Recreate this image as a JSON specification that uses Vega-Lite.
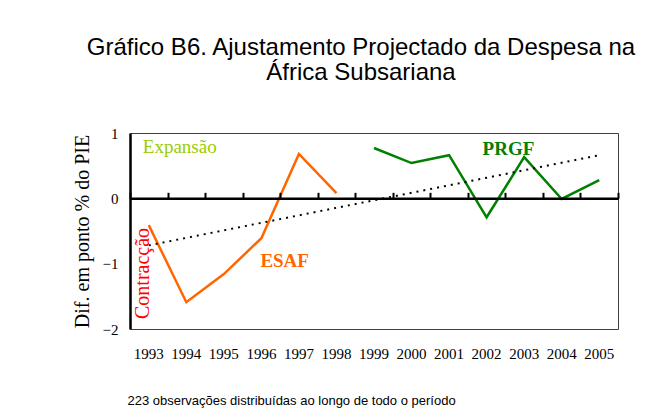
{
  "$schema": "https://vega.github.io/schema/vega-lite/v6.json",
  "autosize": "none",
  "width": 488,
  "height": 196,
  "padding": {"left": 130, "top": 133, "right": 35, "bottom": 90},
  "background": "white",
  "config": {
    "view": {"stroke": "#404040", "strokeWidth": 1},
    "axis": {"grid": false}
  },
  "title": {
    "text": ["Gráfico B6. Ajustamento Projectado da Despesa na", "África Subsariana"],
    "font": "Liberation Sans",
    "fontSize": 24,
    "fontWeight": "normal",
    "color": "black",
    "anchor": "middle",
    "frame": "group",
    "dx": -13,
    "lineHeight": 25,
    "offset": 41
  },
  "datasets": {
    "series": [
      {"year": "1993", "value": -0.41, "programme": "ESAF"},
      {"year": "1994", "value": -1.59, "programme": "ESAF"},
      {"year": "1995", "value": -1.16, "programme": "ESAF"},
      {"year": "1996", "value": -0.61, "programme": "ESAF"},
      {"year": "1997", "value": 0.68, "programme": "ESAF"},
      {"year": "1998", "value": 0.08, "programme": "ESAF"},
      {"year": "1999", "value": 0.77, "programme": "PRGF"},
      {"year": "2000", "value": 0.54, "programme": "PRGF"},
      {"year": "2001", "value": 0.66, "programme": "PRGF"},
      {"year": "2002", "value": -0.29, "programme": "PRGF"},
      {"year": "2003", "value": 0.63, "programme": "PRGF"},
      {"year": "2004", "value": -0.01, "programme": "PRGF"},
      {"year": "2005", "value": 0.28, "programme": "PRGF"}
    ],
    "trend": [
      {"year": "1993", "value": -0.72},
      {"year": "2005", "value": 0.66}
    ],
    "notes": [
      {"label": "Expansão", "year": "1993", "value": 0.78},
      {"label": "Contracção", "year": "1993", "value": -1.15},
      {"label": "ESAF", "year": "1996", "value": -0.96},
      {"label": "PRGF", "year": "2002", "value": 0.76}
    ]
  },
  "resolve": {"axis": {"x": "independent", "y": "independent"}},
  "layer": [
    {
      "data": {"name": "series"},
      "mark": {"type": "line", "strokeWidth": 2.5},
      "encoding": {
        "x": {
          "field": "year",
          "type": "ordinal",
          "bandPosition": 0.5,
          "scale": {
            "type": "band",
            "domain": ["1993","1994","1995","1996","1997","1998","1999","2000","2001","2002","2003","2004","2005"],
            "paddingInner": 0,
            "paddingOuter": 0
          },
          "axis": {
            "orient": "bottom",
            "domain": false,
            "ticks": false,
            "labelAngle": 0,
            "labelFont": "Liberation Serif",
            "labelFontSize": 15,
            "labelColor": "black",
            "labelPadding": 17,
            "title": "223 observações distribuídas ao longo de todo o período",
            "titleFont": "Liberation Sans",
            "titleFontSize": 13,
            "titleFontWeight": "normal",
            "titleColor": "black",
            "titleAlign": "left",
            "titleAnchor": "start",
            "titleX": -3,
            "titleY": 71,
            "titleBaseline": "middle"
          }
        },
        "y": {
          "field": "value",
          "type": "quantitative",
          "scale": {"domain": [-2, 1], "nice": false, "zero": false},
          "axis": {
            "orient": "left",
            "values": [-2, -1, 0, 1],
            "format": "d",
            "ticks": false,
            "domain": true,
            "domainColor": "black",
            "domainWidth": 2.5,
            "labelFont": "Liberation Serif",
            "labelFontSize": 15,
            "labelColor": "black",
            "labelPadding": 12,
            "title": "Dif. em ponto % do PIE",
            "titleFont": "Liberation Serif",
            "titleFontSize": 20,
            "titleFontWeight": "normal",
            "titleColor": "black",
            "titleAngle": -90,
            "titleAlign": "center",
            "titleBaseline": "alphabetic",
            "titleX": -42,
            "titleY": 98
          }
        },
        "color": {
          "field": "programme",
          "type": "nominal",
          "scale": {"domain": ["ESAF", "PRGF"], "range": ["#FF6600", "#008000"]},
          "legend": null
        }
      }
    },
    {
      "data": {"name": "trend"},
      "mark": {"type": "line", "stroke": "black", "strokeWidth": 2, "strokeDash": [2, 5]},
      "encoding": {
        "x": {
          "field": "year",
          "type": "ordinal",
          "bandPosition": 0.5,
          "axis": {
            "orient": "top",
            "offset": -65.33,
            "domain": true,
            "domainColor": "black",
            "domainWidth": 2.5,
            "ticks": true,
            "tickColor": "black",
            "tickOpacity": 1,
            "tickWidth": 2,
            "tickSize": 6,
            "tickBand": "extent",
            "labels": false,
            "title": null,
            "zindex": 1
          }
        },
        "y": {"field": "value", "type": "quantitative", "axis": null}
      }
    },
    {
      "data": {"name": "notes"},
      "transform": [{"filter": "datum.label === 'Expansão'"}],
      "mark": {"type": "text", "font": "Liberation Serif", "fontSize": 19, "color": "#99CC00", "align": "left", "baseline": "middle", "dx": -6},
      "encoding": {
        "x": {"field": "year", "type": "ordinal", "bandPosition": 0.5, "axis": null},
        "y": {"field": "value", "type": "quantitative", "axis": null},
        "text": {"field": "label"}
      }
    },
    {
      "data": {"name": "notes"},
      "transform": [{"filter": "datum.label === 'Contracção'"}],
      "mark": {"type": "text", "font": "Liberation Serif", "fontSize": 20, "color": "#FF0000", "align": "center", "baseline": "alphabetic", "angle": 270},
      "encoding": {
        "x": {"field": "year", "type": "ordinal", "bandPosition": 0.5, "axis": null},
        "y": {"field": "value", "type": "quantitative", "axis": null},
        "text": {"field": "label"}
      }
    },
    {
      "data": {"name": "notes"},
      "transform": [{"filter": "datum.label === 'ESAF'"}],
      "mark": {"type": "text", "font": "Liberation Serif", "fontSize": 19, "fontWeight": "bold", "color": "#FF6600", "align": "left", "baseline": "middle", "dx": -1},
      "encoding": {
        "x": {"field": "year", "type": "ordinal", "bandPosition": 0.5, "axis": null},
        "y": {"field": "value", "type": "quantitative", "axis": null},
        "text": {"field": "label"}
      }
    },
    {
      "data": {"name": "notes"},
      "transform": [{"filter": "datum.label === 'PRGF'"}],
      "mark": {"type": "text", "font": "Liberation Serif", "fontSize": 19, "fontWeight": "bold", "color": "#008000", "align": "left", "baseline": "middle", "dx": -4},
      "encoding": {
        "x": {"field": "year", "type": "ordinal", "bandPosition": 0.5, "axis": null},
        "y": {"field": "value", "type": "quantitative", "axis": null},
        "text": {"field": "label"}
      }
    }
  ]
}
